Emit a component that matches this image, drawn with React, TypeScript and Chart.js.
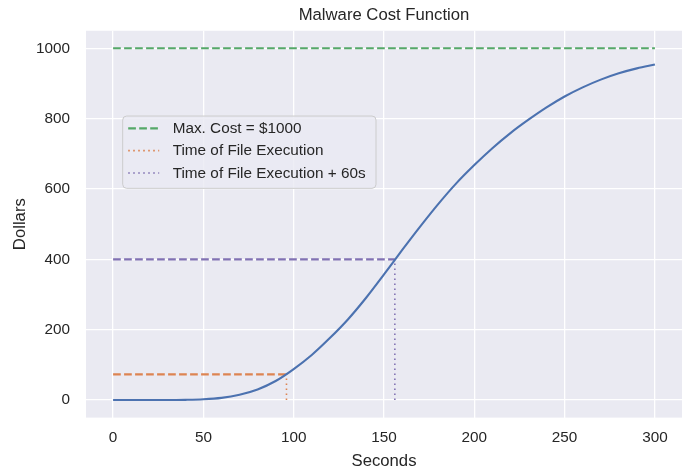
import React, { useEffect, useRef } from 'react';
import { Chart, registerables } from 'chart.js';

Chart.register(...registerables);

// ---- Data ----
const seconds = [0, 10, 20, 30, 40, 50, 60, 70, 80, 90, 100, 110, 120, 130, 140, 150, 160, 170, 180, 190, 200, 210, 220, 230, 240, 250, 260, 270, 280, 290, 300];
const dollars = [0, 0, 0, 0, 0.5, 2, 6, 15, 30, 54, 88, 128, 176, 229, 290, 357, 426, 493, 557, 616, 668, 716, 759, 797, 832, 863, 889, 911, 929, 943, 954];
const xTicks = [0, 50, 100, 150, 200, 250, 300];
const yTicks = [0, 200, 400, 600, 800, 1000];
const maxCost = 1000;
const costStart = 0;
const costEnd = 300;
const execTime = 96;
const execCost = 73;
const execPlus60Time = 156;
const execPlus60Cost = 400;
const legendLabels = ['Max. Cost = $1000', 'Time of File Execution', 'Time of File Execution + 60s'];
const titleText = 'Malware Cost Function';
const xTitle = 'Seconds';
const yTitle = 'Dollars';

const C = {
  blue: '#4C72B0',
  orange: '#DD8452',
  green: '#55A868',
  purple: '#8172B3',
  bg: '#EAEAF2',
  text: '#262626',
};
const FONT = "'Liberation Sans', Arial, sans-serif";
const DASH = [7.7, 3.3];
const DOT = [1.6, 3.4];

const bgPlugin = {
  id: 'bgPlugin',
  beforeDraw(chart: any) {
    const { ctx, chartArea } = chart;
    ctx.save();
    ctx.fillStyle = C.bg;
    ctx.fillRect(chartArea.left, chartArea.top, chartArea.right - chartArea.left, chartArea.bottom - chartArea.top);
    ctx.restore();
  },
};

const legendPlugin = {
  id: 'customLegend',
  afterDraw(chart: any) {
    const { ctx, chartArea } = chart;
    const items = chart.data.datasets.filter((d: any) => d.legendText);
    const x0 = chartArea.left + 36.7;
    const y0 = chartArea.top + 85.3;
    const w = 253.3;
    const h = 72.3;
    ctx.save();
    ctx.beginPath();
    if (ctx.roundRect) ctx.roundRect(x0, y0, w, h, 4);
    else ctx.rect(x0, y0, w, h);
    ctx.fillStyle = 'rgba(234,234,242,0.8)';
    ctx.fill();
    ctx.strokeStyle = '#CCCCCC';
    ctx.lineWidth = 1;
    ctx.stroke();
    ctx.font = `15.3px ${FONT}`;
    ctx.textBaseline = 'middle';
    ctx.textAlign = 'left';
    items.forEach((d: any, i: number) => {
      const y = y0 + 12.3 + i * 22.3;
      ctx.beginPath();
      ctx.setLineDash(d.borderDash || []);
      ctx.strokeStyle = d.borderColor;
      ctx.lineWidth = d.borderWidth;
      ctx.moveTo(x0 + 5.5, y);
      ctx.lineTo(x0 + 36.5, y);
      ctx.stroke();
      ctx.setLineDash([]);
      ctx.fillStyle = C.text;
      ctx.fillText(d.legendText, x0 + 50, y + 0.5);
    });
    ctx.restore();
  },
};

const seg = (x1: number, y1: number, x2: number, y2: number) => [
  { x: x1, y: y1 },
  { x: x2, y: y2 },
];

export default function App() {
  const ref = useRef<HTMLCanvasElement>(null);

  useEffect(() => {
    if (!ref.current) return;
    const lineBase = { pointRadius: 0, fill: false, tension: 0 };
    const chart = new Chart(ref.current, {
      type: 'line',
      data: {
        datasets: [
          {
            ...lineBase,
            data: seconds.map((s, i) => ({ x: s, y: dollars[i] })),
            borderColor: C.blue,
            borderWidth: 2.1,
            cubicInterpolationMode: 'monotone',
          } as any,
          {
            ...lineBase,
            data: seg(costStart, maxCost, costEnd, maxCost),
            borderColor: C.green,
            borderWidth: 2.1,
            borderDash: DASH,
            legendText: legendLabels[0],
          } as any,
          {
            ...lineBase,
            data: seg(execTime, 0, execTime, execCost),
            borderColor: C.orange,
            borderWidth: 1.6,
            borderDash: DOT,
            legendText: legendLabels[1],
          } as any,
          {
            ...lineBase,
            data: seg(execPlus60Time, 0, execPlus60Time, execPlus60Cost),
            borderColor: C.purple,
            borderWidth: 1.6,
            borderDash: DOT,
            legendText: legendLabels[2],
          } as any,
          {
            ...lineBase,
            data: seg(costStart, execCost, execTime, execCost),
            borderColor: C.orange,
            borderWidth: 2.1,
            borderDash: DASH,
          } as any,
          {
            ...lineBase,
            data: seg(costStart, execPlus60Cost, execPlus60Time, execPlus60Cost),
            borderColor: C.purple,
            borderWidth: 2.1,
            borderDash: DASH,
          } as any,
        ],
      },
      options: {
        animation: false,
        responsive: false,
        maintainAspectRatio: false,
        devicePixelRatio: 1,
        layout: { padding: { left: 0, right: 8, top: 0, bottom: 0 } },
        plugins: {
          legend: { display: false },
          tooltip: { enabled: false },
          title: {
            display: true,
            text: titleText,
            fullSize: false,
            color: C.text,
            font: { family: FONT, size: 16.7, weight: 'normal', lineHeight: 1.2 },
            padding: { top: 5, bottom: 5.7 },
          },
        },
        scales: {
          x: {
            type: 'linear',
            min: -15,
            max: 315,
            afterBuildTicks: (scale: any) => {
              scale.ticks = xTicks.map((v) => ({ value: v }));
            },
            afterFit: (scale: any) => {
              scale.height = 52.4;
            },
            grid: { color: '#FFFFFF', lineWidth: 1.3, drawTicks: false },
            border: { display: false },
            ticks: {
              autoSkip: false,
              maxRotation: 0,
              color: C.text,
              padding: 11,
              font: { family: FONT, size: 15.3 },
              callback: (v: any) => String(v),
            },
            title: {
              display: true,
              text: xTitle,
              color: C.text,
              font: { family: FONT, size: 16.7, lineHeight: 1.0 },
              padding: { top: 0, bottom: 0 },
            },
          },
          y: {
            type: 'linear',
            min: -50,
            max: 1050,
            afterBuildTicks: (scale: any) => {
              scale.ticks = yTicks.map((v) => ({ value: v }));
            },
            afterFit: (scale: any) => {
              scale.width = 86;
            },
            grid: { color: '#FFFFFF', lineWidth: 1.3, drawTicks: false },
            border: { display: false },
            ticks: {
              autoSkip: false,
              color: C.text,
              padding: 16,
              font: { family: FONT, size: 15.3 },
              callback: (v: any) => String(v),
            },
            title: {
              display: true,
              text: yTitle,
              color: C.text,
              font: { family: FONT, size: 16.7, lineHeight: 1.2 },
              padding: { top: 10, bottom: 0 },
            },
          },
        },
      } as any,
      plugins: [bgPlugin, legendPlugin],
    });
    return () => chart.destroy();
  }, []);

  return (
    <div style={{ position: 'absolute', left: 0, top: 0, width: 690, height: 470, background: '#FFFFFF' }}>
      <canvas ref={ref} width={690} height={470} style={{ width: 690, height: 470, display: 'block' }} />
    </div>
  );
}
